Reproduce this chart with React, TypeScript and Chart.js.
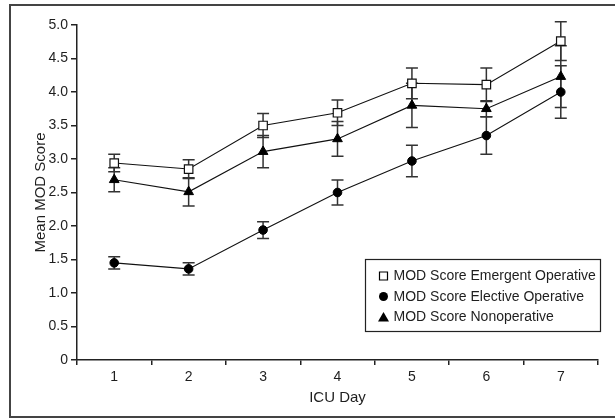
import React, { useEffect, useRef } from 'react';
import { Chart, registerables } from 'chart.js';

Chart.register(...registerables);

// ---- Data ----
const days = ['1', '2', '3', '4', '5', '6', '7'];
const yTickLabels = ['0', '0.5', '1.0', '1.5', '2.0', '2.5', '3.0', '3.5', '4.0', '4.5', '5.0'];

const seriesLabels = [
  'MOD Score Emergent Operative',
  'MOD Score Elective Operative',
  'MOD Score Nonoperative',
];

const emergentMean = [2.94, 2.85, 3.5, 3.69, 4.13, 4.11, 4.76];
const emergentErr = [0.13, 0.14, 0.18, 0.19, 0.23, 0.25, 0.29];

const electiveMean = [1.45, 1.36, 1.94, 2.5, 2.97, 3.35, 4.0];
const electiveErr = [0.09, 0.09, 0.125, 0.185, 0.235, 0.28, 0.39];

const nonopMean = [2.69, 2.51, 3.11, 3.3, 3.8, 3.75, 4.23];
const nonopErr = [0.18, 0.21, 0.24, 0.26, 0.33, 0.12, 0.46];

const errorSets = [emergentErr, electiveErr, nonopErr];

const INK = '#1e1e1e';

function hasFont(name: string): boolean {
  const c = document.createElement('canvas').getContext('2d');
  if (!c) return false;
  const s = 'MOD Score Emergent 0123';
  c.font = `20px "${name}", monospace`;
  const a = c.measureText(s).width;
  c.font = `20px "${name}", serif`;
  const b = c.measureText(s).width;
  return Math.abs(a - b) < 0.01;
}

function drawSymbol(ctx: CanvasRenderingContext2D, kind: number, x: number, y: number) {
  ctx.save();
  ctx.lineWidth = 1.2;
  ctx.strokeStyle = '#000';
  ctx.fillStyle = '#000';
  ctx.beginPath();
  if (kind === 0) {
    ctx.fillStyle = '#fff';
    ctx.rect(x - 4, y - 4, 8, 8);
    ctx.fill();
    ctx.stroke();
  } else if (kind === 1) {
    ctx.arc(x, y, 4.5, 0, Math.PI * 2);
    ctx.fill();
  } else {
    ctx.moveTo(x, y - 5);
    ctx.lineTo(x + 5.5, y + 4.5);
    ctx.lineTo(x - 5.5, y + 4.5);
    ctx.closePath();
    ctx.fill();
  }
  ctx.restore();
}

const errorBarPlugin = {
  id: 'errorBars',
  beforeDatasetsDraw(chart: any) {
    const { ctx, scales } = chart;
    const xs = scales.x;
    const ys = scales.y;
    ctx.save();
    ctx.strokeStyle = '#333';
    ctx.lineWidth = 1.5;
    chart.data.datasets.forEach((ds: any, di: number) => {
      const errs = errorSets[di];
      ds.data.forEach((v: number, i: number) => {
        const px = xs.getPixelForValue(i);
        const top = ys.getPixelForValue(v + errs[i]);
        const bot = ys.getPixelForValue(v - errs[i]);
        ctx.beginPath();
        ctx.moveTo(px, top);
        ctx.lineTo(px, bot);
        ctx.moveTo(px - 6, top);
        ctx.lineTo(px + 6, top);
        ctx.moveTo(px - 6, bot);
        ctx.lineTo(px + 6, bot);
        ctx.stroke();
      });
    });
    ctx.restore();
  },
};

function makeLegendPlugin(font: string, size: number) {
  return {
    id: 'insetLegend',
    afterDraw(chart: any) {
      const { ctx, chartArea } = chart;
      const x0 = chartArea.right - 232.5;
      const y0 = chartArea.bottom - 100.5;
      const w = 235;
      const h = 72;
      ctx.save();
      ctx.fillStyle = '#fff';
      ctx.fillRect(x0, y0, w, h);
      ctx.strokeStyle = '#222';
      ctx.lineWidth = 1.2;
      ctx.strokeRect(x0, y0, w, h);
      ctx.font = `${size}px ${font}`;
      ctx.fillStyle = INK;
      ctx.textBaseline = 'middle';
      ctx.textAlign = 'left';
      chart.data.datasets.forEach((ds: any, i: number) => {
        const cy = y0 + 16.5 + i * 20.5;
        drawSymbol(ctx, i, x0 + 18, cy);
        ctx.fillText(ds.label, x0 + 28, cy + 0.5);
      });
      ctx.restore();
    },
  };
}

const framePlugin = {
  id: 'frame',
  afterDraw(chart: any) {
    const { ctx } = chart;
    ctx.save();
    ctx.strokeStyle = '#444';
    ctx.lineWidth = 2;
    ctx.beginPath();
    ctx.moveTo(620, 5);
    ctx.lineTo(10, 5);
    ctx.lineTo(10, 417);
    ctx.lineTo(620, 417);
    ctx.stroke();
    ctx.restore();
  },
};

export default function App() {
  const ref = useRef<HTMLCanvasElement | null>(null);

  useEffect(() => {
    document.body.style.margin = '0';
    const canvas = ref.current;
    if (!canvas) return;

    const narrow = hasFont('Liberation Sans Narrow');
    const FONT = narrow
      ? '"Liberation Sans Narrow", "Liberation Sans", Arial, sans-serif'
      : '"Liberation Sans", Arial, Helvetica, sans-serif';
    const tickSize = narrow ? 16 : 14;
    const titleSize = narrow ? 17.5 : 15;
    const legendSize = narrow ? 17 : 14;
    const xTickPad = narrow ? 3 : 4;
    const xTitleBottom = narrow ? 11.5 : 13;
    const yTitleTop = narrow ? 30.5 : 32;

    const chart = new Chart(canvas, {
      type: 'line',
      data: {
        labels: days,
        datasets: [
          {
            label: seriesLabels[0],
            data: emergentMean,
            borderColor: '#111',
            borderWidth: 1.1,
            pointStyle: 'rect',
            pointRadius: 6,
            pointBackgroundColor: '#fff',
            pointBorderColor: '#111',
            pointBorderWidth: 1.2,
            fill: false,
            tension: 0,
          },
          {
            label: seriesLabels[1],
            data: electiveMean,
            borderColor: '#111',
            borderWidth: 1.1,
            pointStyle: 'circle',
            pointRadius: 4.3,
            pointBackgroundColor: '#000',
            pointBorderColor: '#000',
            pointBorderWidth: 1,
            fill: false,
            tension: 0,
          },
          {
            label: seriesLabels[2],
            data: nonopMean,
            borderColor: '#111',
            borderWidth: 1.1,
            pointStyle: 'triangle',
            pointRadius: 5.6,
            pointBackgroundColor: '#000',
            pointBorderColor: '#000',
            pointBorderWidth: 1,
            fill: false,
            tension: 0,
          },
        ],
      },
      options: {
        responsive: false,
        animation: false,
        devicePixelRatio: 1,
        layout: { padding: { left: 0, right: 17, top: 25, bottom: 0 } },
        plugins: {
          legend: { display: false },
          tooltip: { enabled: false },
        },
        scales: {
          x: {
            type: 'category',
            offset: true,
            grid: {
              offset: true,
              drawOnChartArea: false,
              drawTicks: true,
              tickLength: 5,
              color: '#222',
              lineWidth: 1.5,
            },
            border: { display: true, color: '#222', width: 1.5 },
            ticks: { color: INK, font: { family: FONT, size: tickSize }, padding: xTickPad },
            title: {
              display: true,
              text: 'ICU Day',
              color: INK,
              font: { family: FONT, size: titleSize },
              padding: { top: 0, bottom: xTitleBottom },
            },
            afterFit: (s: any) => {
              s.height = 60;
            },
          },
          y: {
            min: 0,
            max: 5,
            grid: {
              drawOnChartArea: false,
              drawTicks: true,
              tickLength: 6,
              color: '#222',
              lineWidth: 1.5,
            },
            border: { display: true, color: '#222', width: 1.5 },
            ticks: {
              stepSize: 0.5,
              color: INK,
              font: { family: FONT, size: tickSize },
              padding: 3,
              callback: (v: any, i: number) => yTickLabels[i] ?? String(v),
            },
            title: {
              display: true,
              text: 'Mean MOD Score',
              color: INK,
              font: { family: FONT, size: titleSize },
              padding: { top: yTitleTop, bottom: 0 },
            },
            afterFit: (s: any) => {
              s.width = 77;
            },
          },
        },
      },
      plugins: [errorBarPlugin, makeLegendPlugin(FONT, legendSize), framePlugin],
    });
    return () => chart.destroy();
  }, []);

  return (
    <canvas ref={ref} width={615} height={420} style={{ display: 'block', width: 615, height: 420 }} />
  );
}
